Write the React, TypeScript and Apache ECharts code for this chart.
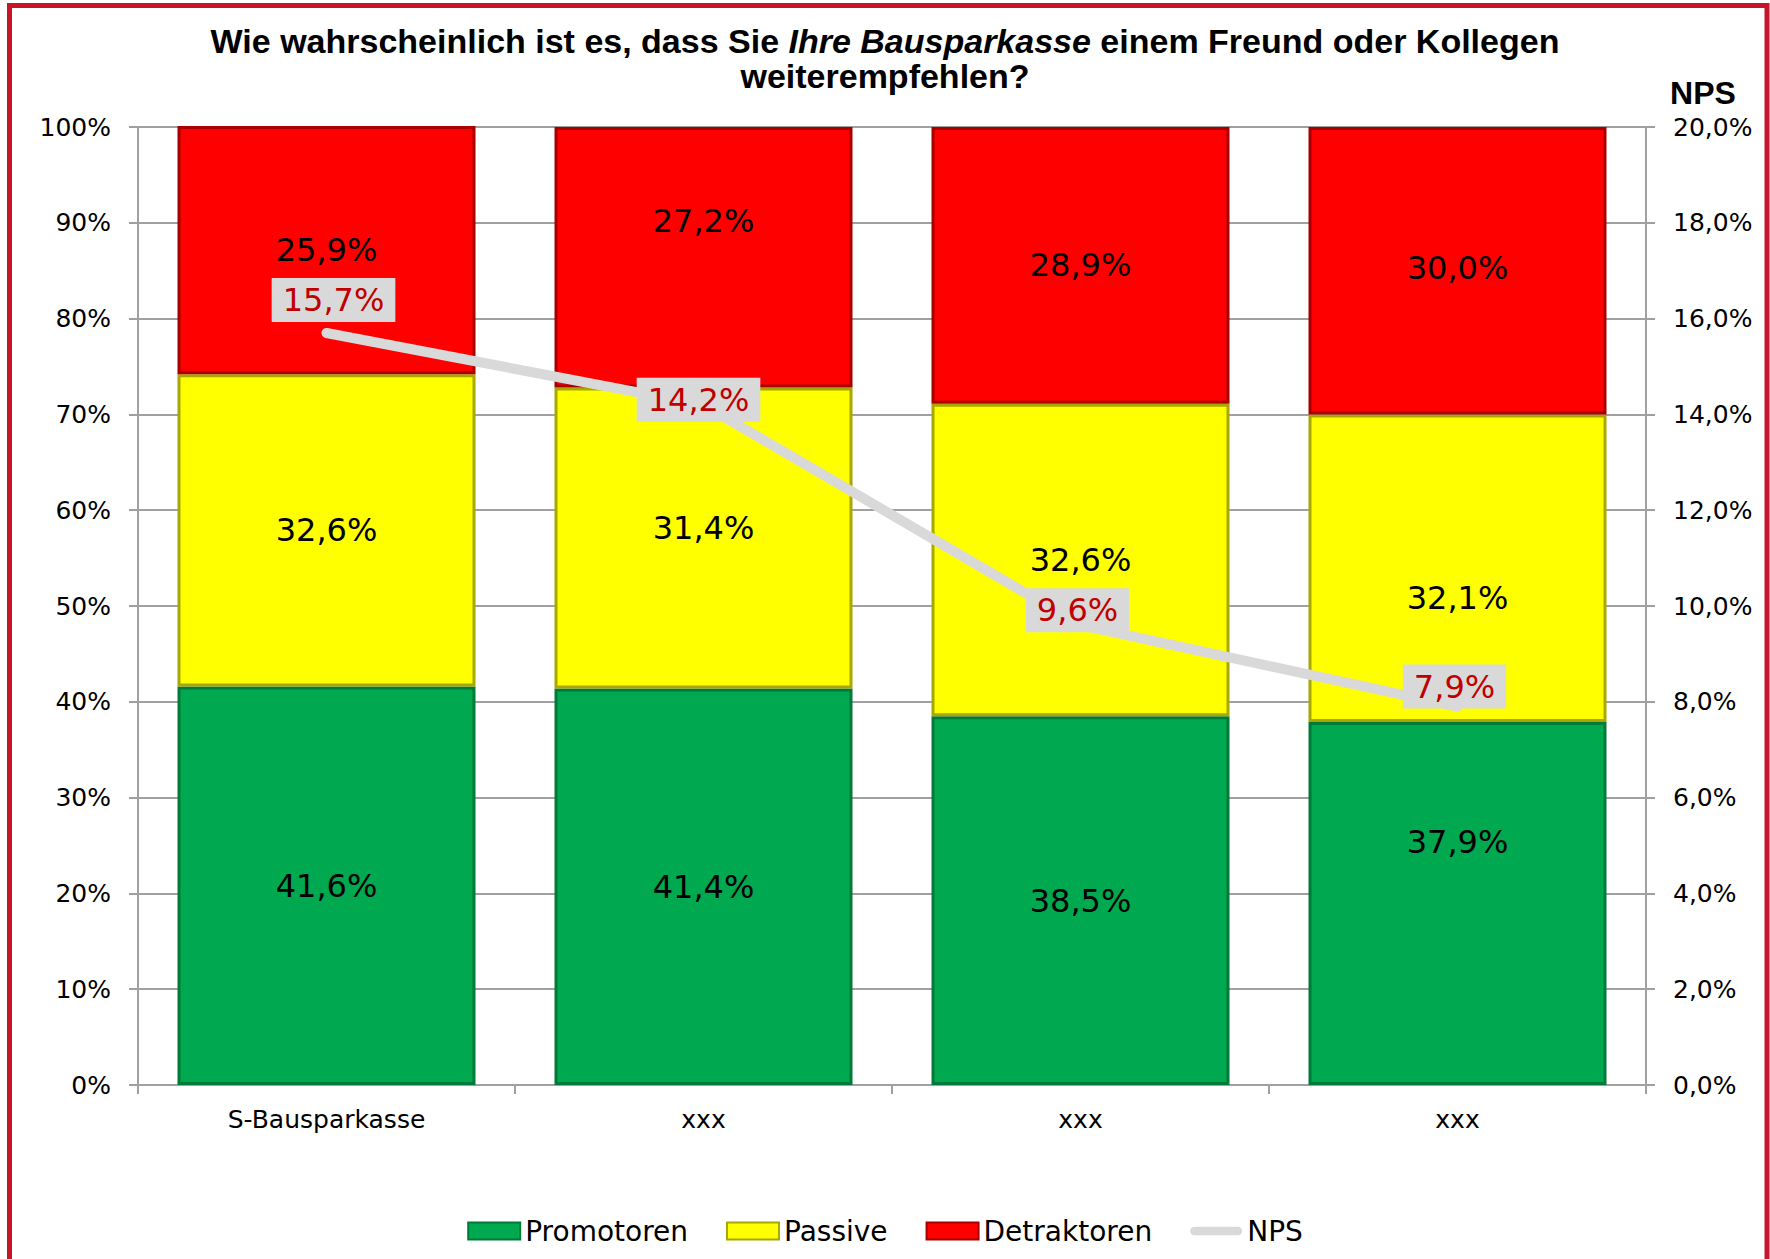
import React, { useEffect, useRef } from "react";
import * as echarts from "echarts";

const categories = ["S-Bausparkasse", "xxx", "xxx", "xxx"];
const promotoren = [41.6, 41.4, 38.5, 37.9];
const passive = [32.6, 31.4, 32.6, 32.1];
const detraktoren = [25.9, 27.2, 28.9, 30.0];
const nps = [15.7, 14.2, 9.6, 7.9];

const leftTicks = { min: 0, max: 100, interval: 10 };
const rightTicks = { min: 0, max: 20, interval: 2 };

// label offsets (styling only)
const promoOffsets = [[0, 0], [0, 0], [0, 0], [0, -61]];
const passiveOffsets = [[0, 0], [0, -10], [0, 0], [0, 30]];
const detrOffsets = [[0, 0], [0, -36], [0, 0], [0, -3]];
const npsOffsets = [[7, -33], [-5, -5], [-3, -15], [-3, -20]];

const fmt = (v: number) => v.toFixed(1).replace(".", ",") + "%";
const FONT = "DejaVu Sans";
const TITLE_FONT = "Liberation Sans";

export default function App() {
  const ref = useRef<HTMLDivElement>(null);
  useEffect(() => {
    if (!ref.current) return;
    const chart = echarts.init(ref.current, undefined, { renderer: "svg" });

    const barLabel = {
      show: true,
      position: "inside",
      color: "#000",
      fontSize: 32,
      fontFamily: FONT,
      formatter: (p: any) => fmt(p.value),
    };
    const mk = (vals: number[], offs: number[][]) =>
      vals.map((v, i) => ({ value: v, label: { offset: offs[i] } }));

    const option: any = {
      animation: false,
      backgroundColor: "#fff",
      title: {
        text:
          "Wie wahrscheinlich ist es, dass Sie {i|Ihre Bausparkasse} einem Freund oder Kollegen\nweiterempfehlen?",
        left: "center",
        top: 18,
        textStyle: {
          fontFamily: TITLE_FONT,
          fontWeight: "bold",
          fontSize: 34,
          lineHeight: 35,
          color: "#000",
          rich: {
            i: {
              fontFamily: TITLE_FONT,
              fontWeight: "bold",
              fontStyle: "italic",
              fontSize: 34,
              lineHeight: 35,
              color: "#000",
            },
          },
        },
      },
      grid: { left: 138, right: 124, top: 127, bottom: 174, containLabel: false },
      legend: {
        left: "center",
        top: 1212,
        itemWidth: 52,
        itemHeight: 17,
        itemGap: 38,
        textStyle: { fontFamily: FONT, fontSize: 28, color: "#000" },
        data: [
          { name: "Promotoren", icon: "rect" },
          { name: "Passive", icon: "rect" },
          { name: "Detraktoren", icon: "rect" },
          {
            name: "NPS",
            icon: "path://M5,0 L56,0 A5,5 0 0 1 56,10 L5,10 A5,5 0 0 1 5,0 Z",
          },
        ],
      },
      xAxis: {
        type: "category",
        data: categories,
        axisLine: { show: true, lineStyle: { color: "#A0A0A0", width: 2 } },
        axisTick: { show: true, length: 9, lineStyle: { color: "#A0A0A0", width: 2 } },
        axisLabel: { margin: 22, color: "#000", fontSize: 25, fontFamily: FONT },
        splitLine: { show: false },
      },
      yAxis: [
        {
          type: "value",
          position: "left",
          ...leftTicks,
          axisLine: { show: true, lineStyle: { color: "#A0A0A0", width: 2 } },
          axisTick: { show: true, length: 9, lineStyle: { color: "#A0A0A0", width: 2 } },
          axisLabel: {
            margin: 27,
            color: "#000",
            fontSize: 25,
            fontFamily: FONT,
            formatter: (v: number) => v + "%",
          },
          splitLine: { show: true, lineStyle: { color: "#A0A0A0", width: 2 } },
        },
        {
          type: "value",
          position: "right",
          ...rightTicks,
          axisLine: { show: true, lineStyle: { color: "#A0A0A0", width: 2 } },
          axisTick: { show: true, length: 9, lineStyle: { color: "#A0A0A0", width: 2 } },
          axisLabel: {
            margin: 27,
            color: "#000",
            fontSize: 25,
            fontFamily: FONT,
            formatter: (v: number) => fmt(v),
          },
          splitLine: { show: false },
        },
      ],
      series: [
        {
          name: "Promotoren",
          type: "bar",
          stack: "s",
          barWidth: 298,
          data: mk(promotoren, promoOffsets),
          itemStyle: { color: "#00A84F", borderColor: "#007A38", borderWidth: 3 },
          label: barLabel,
        },
        {
          name: "Passive",
          type: "bar",
          stack: "s",
          barWidth: 298,
          data: mk(passive, passiveOffsets),
          itemStyle: { color: "#FFFF00", borderColor: "#A8A800", borderWidth: 3 },
          label: barLabel,
        },
        {
          name: "Detraktoren",
          type: "bar",
          stack: "s",
          barWidth: 298,
          data: mk(detraktoren, detrOffsets),
          itemStyle: { color: "#FF0000", borderColor: "#A80000", borderWidth: 3 },
          label: barLabel,
        },
        {
          name: "NPS",
          type: "line",
          yAxisIndex: 1,
          z: 5,
          symbol: "circle",
          symbolSize: 1,
          itemStyle: { color: "#D9D9D9" },
          lineStyle: { color: "#D9D9D9", width: 10, cap: "round", join: "round" },
          data: nps.map((v, i) => ({ value: v, label: { offset: npsOffsets[i] } })),
          label: {
            show: true,
            position: "inside",
            color: "#C00000",
            fontSize: 32,
            fontFamily: FONT,
            backgroundColor: "#D9D9D9",
            padding: [6, 11, 6, 11],
            formatter: (p: any) => fmt(p.value),
          },
        },
      ],
      graphic: [
        {
          type: "text",
          x: 1703,
          y: 93,
          style: {
            text: "NPS",
            fontFamily: TITLE_FONT,
            fontWeight: "bold",
            fontSize: 32,
            fill: "#000",
            textAlign: "center",
            textVerticalAlign: "middle",
          },
        },
        {
          type: "rect",
          silent: true,
          z: 100,
          shape: { x: 9.5, y: 5.5, width: 1757.5, height: 1300 },
          style: { fill: "none", stroke: "#C81428", lineWidth: 5 },
        },
      ],
    };
    chart.setOption(option);
    return () => chart.dispose();
  }, []);
  return (
    <div
      ref={ref}
      style={{ position: "fixed", left: 0, top: 0, width: 1770, height: 1259 }}
    />
  );
}
